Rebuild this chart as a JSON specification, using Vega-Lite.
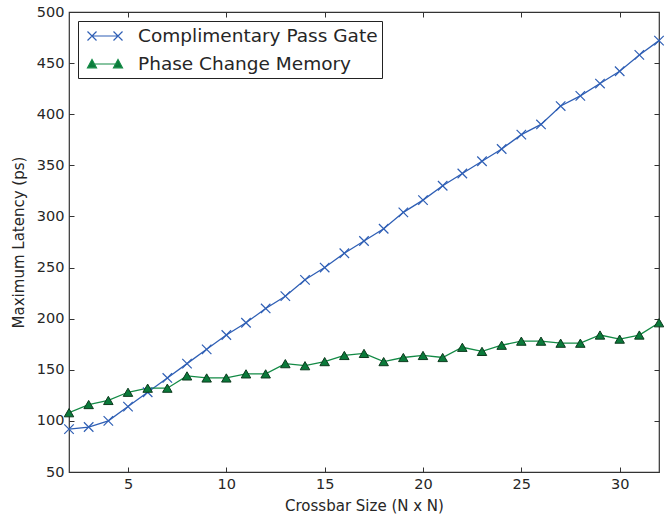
{
  "$schema": "https://vega.github.io/schema/vega-lite/v6.json",
  "width": 590,
  "height": 460,
  "autosize": {"type": "none"},
  "padding": {"left": 69, "top": 12, "right": 8, "bottom": 44},
  "background": "white",
  "config": {
    "font": "DejaVu Sans",
    "view": {"stroke": "#333333", "strokeWidth": 1.2},
    "axis": {
      "domain": false,
      "grid": false,
      "tickColor": "#333333",
      "tickSize": -5,
      "tickWidth": 1,
      "labelFont": "DejaVu Sans",
      "labelFontSize": 14.5,
      "labelColor": "#262626",
      "titleFont": "DejaVu Sans",
      "titleFontSize": 15,
      "titleFontWeight": "normal",
      "titleColor": "#262626"
    }
  },
  "data": {
    "values": [
      {"n": 2, "series": "Complimentary Pass Gate", "latency": 92},
      {"n": 3, "series": "Complimentary Pass Gate", "latency": 94},
      {"n": 4, "series": "Complimentary Pass Gate", "latency": 100},
      {"n": 5, "series": "Complimentary Pass Gate", "latency": 114},
      {"n": 6, "series": "Complimentary Pass Gate", "latency": 128},
      {"n": 7, "series": "Complimentary Pass Gate", "latency": 142},
      {"n": 8, "series": "Complimentary Pass Gate", "latency": 156},
      {"n": 9, "series": "Complimentary Pass Gate", "latency": 170},
      {"n": 10, "series": "Complimentary Pass Gate", "latency": 184},
      {"n": 11, "series": "Complimentary Pass Gate", "latency": 196},
      {"n": 12, "series": "Complimentary Pass Gate", "latency": 210},
      {"n": 13, "series": "Complimentary Pass Gate", "latency": 222},
      {"n": 14, "series": "Complimentary Pass Gate", "latency": 238},
      {"n": 15, "series": "Complimentary Pass Gate", "latency": 250},
      {"n": 16, "series": "Complimentary Pass Gate", "latency": 264},
      {"n": 17, "series": "Complimentary Pass Gate", "latency": 276},
      {"n": 18, "series": "Complimentary Pass Gate", "latency": 288},
      {"n": 19, "series": "Complimentary Pass Gate", "latency": 304},
      {"n": 20, "series": "Complimentary Pass Gate", "latency": 316},
      {"n": 21, "series": "Complimentary Pass Gate", "latency": 330},
      {"n": 22, "series": "Complimentary Pass Gate", "latency": 342},
      {"n": 23, "series": "Complimentary Pass Gate", "latency": 354},
      {"n": 24, "series": "Complimentary Pass Gate", "latency": 366},
      {"n": 25, "series": "Complimentary Pass Gate", "latency": 380},
      {"n": 26, "series": "Complimentary Pass Gate", "latency": 390},
      {"n": 27, "series": "Complimentary Pass Gate", "latency": 408},
      {"n": 28, "series": "Complimentary Pass Gate", "latency": 418},
      {"n": 29, "series": "Complimentary Pass Gate", "latency": 430},
      {"n": 30, "series": "Complimentary Pass Gate", "latency": 442},
      {"n": 31, "series": "Complimentary Pass Gate", "latency": 458},
      {"n": 32, "series": "Complimentary Pass Gate", "latency": 472},
      {"n": 2, "series": "Phase Change Memory", "latency": 108},
      {"n": 3, "series": "Phase Change Memory", "latency": 116},
      {"n": 4, "series": "Phase Change Memory", "latency": 120},
      {"n": 5, "series": "Phase Change Memory", "latency": 128},
      {"n": 6, "series": "Phase Change Memory", "latency": 132},
      {"n": 7, "series": "Phase Change Memory", "latency": 132},
      {"n": 8, "series": "Phase Change Memory", "latency": 144},
      {"n": 9, "series": "Phase Change Memory", "latency": 142},
      {"n": 10, "series": "Phase Change Memory", "latency": 142},
      {"n": 11, "series": "Phase Change Memory", "latency": 146},
      {"n": 12, "series": "Phase Change Memory", "latency": 146},
      {"n": 13, "series": "Phase Change Memory", "latency": 156},
      {"n": 14, "series": "Phase Change Memory", "latency": 154},
      {"n": 15, "series": "Phase Change Memory", "latency": 158},
      {"n": 16, "series": "Phase Change Memory", "latency": 164},
      {"n": 17, "series": "Phase Change Memory", "latency": 166},
      {"n": 18, "series": "Phase Change Memory", "latency": 158},
      {"n": 19, "series": "Phase Change Memory", "latency": 162},
      {"n": 20, "series": "Phase Change Memory", "latency": 164},
      {"n": 21, "series": "Phase Change Memory", "latency": 162},
      {"n": 22, "series": "Phase Change Memory", "latency": 172},
      {"n": 23, "series": "Phase Change Memory", "latency": 168},
      {"n": 24, "series": "Phase Change Memory", "latency": 174},
      {"n": 25, "series": "Phase Change Memory", "latency": 178},
      {"n": 26, "series": "Phase Change Memory", "latency": 178},
      {"n": 27, "series": "Phase Change Memory", "latency": 176},
      {"n": 28, "series": "Phase Change Memory", "latency": 176},
      {"n": 29, "series": "Phase Change Memory", "latency": 184},
      {"n": 30, "series": "Phase Change Memory", "latency": 180},
      {"n": 31, "series": "Phase Change Memory", "latency": 184},
      {"n": 32, "series": "Phase Change Memory", "latency": 196}
    ]
  },
  "layer": [
    {
      "mark": {"type": "line", "strokeWidth": 1.3, "clip": true},
      "encoding": {
        "x": {
          "field": "n", "type": "quantitative",
          "scale": {"domain": [2, 32], "nice": false, "zero": false},
          "axis": {"orient": "bottom", "values": [5, 10, 15, 20, 25, 30], "title": "Crossbar Size (N x N)", "labelPadding": 10, "titlePadding": 8}
        },
        "y": {
          "field": "latency", "type": "quantitative",
          "scale": {"domain": [50, 500], "nice": false, "zero": false},
          "axis": {"orient": "left", "values": [50, 100, 150, 200, 250, 300, 350, 400, 450, 500], "title": "Maximum Latency (ps)", "labelPadding": 10, "titlePadding": 10}
        },
        "color": {
          "field": "series", "type": "nominal",
          "scale": {"domain": ["Complimentary Pass Gate", "Phase Change Memory"], "range": ["#2f5fb5", "#138a45"]},
          "legend": {
            "title": null,
            "orient": "top-left",
            "offset": 9,
            "padding": 4,
            "fillColor": "white",
            "strokeColor": "#222222",
            "cornerRadius": 0,
            "labelFont": "DejaVu Sans",
            "labelFontSize": 18.5,
            "labelColor": "#262626",
            "labelLimit": 500,
            "symbolSize": 400,
            "symbolOffset": 12,
            "labelOffset": 22,
            "rowPadding": 7,
            "symbolStrokeWidth": 1.2,
            "encode": {
              "symbols": {
                "update": {
                  "shape": {"signal": "datum.value === 'Complimentary Pass Gate' ? 'M-1.3,0L1.3,0M-1.75,-0.45L-0.85,0.45M-1.75,0.45L-0.85,-0.45M0.85,-0.45L1.75,0.45M0.85,0.45L1.75,-0.45' : 'M-1.3,0L1.3,0M-1.75,0.38L-0.85,0.38L-1.3,-0.45ZM0.85,0.38L1.75,0.38L1.3,-0.45Z'"},
                  "fill": {"signal": "datum.value === 'Complimentary Pass Gate' ? '#2f5fb5' : '#0a7a3a'"},
                  "stroke": {"signal": "datum.value === 'Complimentary Pass Gate' ? '#2f5fb5' : '#0d3a1e'"},
                  "fillOpacity": {"value": 1}
                }
              }
            }
          }
        }
      }
    },
    {
      "transform": [{"filter": "datum.series === 'Complimentary Pass Gate'"}],
      "mark": {"type": "point", "shape": "M-1,-1L1,1M-1,1L1,-1", "size": 90, "stroke": "#2f5fb5", "strokeWidth": 1.2, "filled": false, "opacity": 1, "clip": false},
      "encoding": {
        "x": {"field": "n", "type": "quantitative", "axis": null},
        "y": {"field": "latency", "type": "quantitative", "axis": null}
      }
    },
    {
      "transform": [{"filter": "datum.series === 'Phase Change Memory'"}],
      "mark": {"type": "point", "shape": "triangle-up", "size": 90, "fill": "#0a7a3a", "stroke": "#0d3a1e", "strokeWidth": 1, "filled": true, "opacity": 1, "fillOpacity": 1, "clip": false},
      "encoding": {
        "x": {"field": "n", "type": "quantitative", "axis": null},
        "y": {"field": "latency", "type": "quantitative", "axis": null}
      }
    },
    {
      "mark": {"type": "point", "opacity": 0},
      "encoding": {
        "x": {
          "field": "n", "type": "quantitative",
          "axis": {"orient": "top", "values": [5, 10, 15, 20, 25, 30], "labels": false, "title": null}
        },
        "y": {
          "field": "latency", "type": "quantitative",
          "axis": {"orient": "right", "values": [50, 100, 150, 200, 250, 300, 350, 400, 450, 500], "labels": false, "title": null}
        }
      }
    }
  ],
  "resolve": {"axis": {"x": "independent", "y": "independent"}}
}
